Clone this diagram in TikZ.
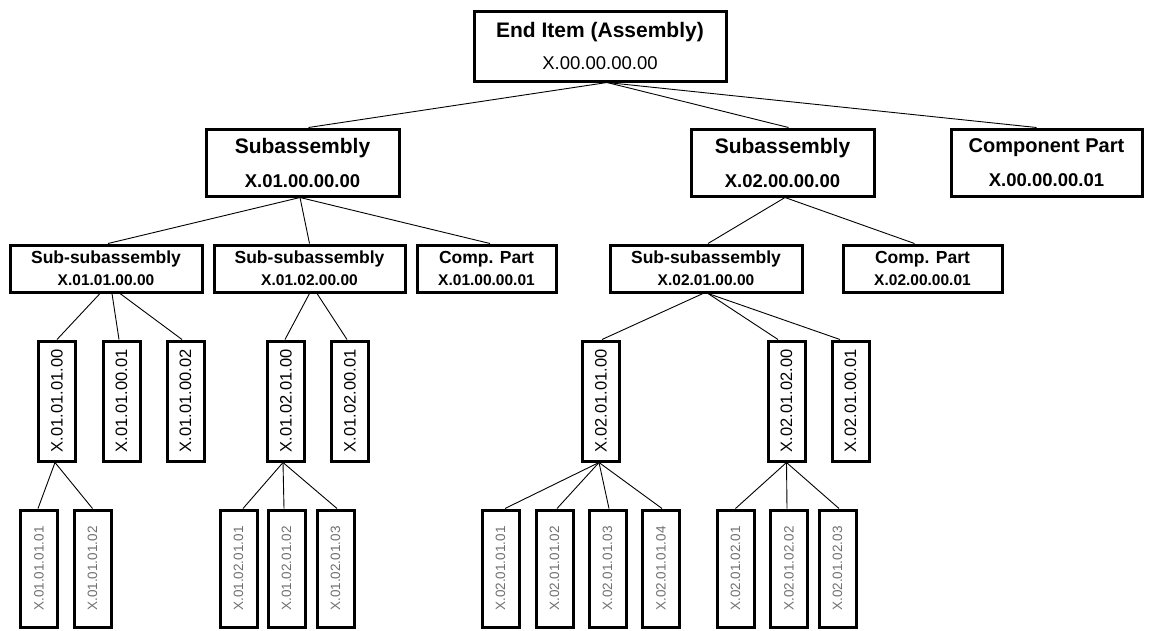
\documentclass[tikz,border=0pt]{standalone}
\usepackage{fontspec}
\setmainfont{Liberation Sans}
\usetikzlibrary{calc}
\definecolor{lightgraytext}{HTML}{707070}
\newcommand\fsz[2]{\fontsize{#1}{#2}\selectfont}
\tikzset{
  box/.style={draw=black, line width=3pt, fill=white, inner sep=0pt, align=center},
  topbox/.style={box, minimum width=252, minimum height=70, font=\fsz{21}{32}},
  subbox/.style={box, minimum height=67, font=\fsz{21}{34}\bfseries},
  ssbox/.style={box, minimum height=47, font=\fsz{17.5}{22}\bfseries},
  vbox/.style={box, minimum width=37, minimum height=120},
  leafbox/.style={box, minimum width=37, minimum height=117},
  conn/.style={draw=black, line width=0.9pt},
}
\newcommand\vtext[1]{\rotatebox{90}{\fsz{16.5}{16.5}#1}}
\newcommand\leaftext[1]{\rotatebox{90}{\fsz{13.5}{13.5}\color{lightgraytext}#1}}
\newcommand\subnum[1]{\fsz{18.5}{34}\bfseries #1}
\newcommand\ssnum[1]{\fsz{15.5}{22}\bfseries #1}
\begin{document}
\begin{tikzpicture}[x=1pt,y=-1pt]
\useasboundingbox (0,0) rectangle (1165,630);
\fill[white] (0,0) rectangle (1165,630);

% level 1
\node[topbox] (top) at (600,46) {\bfseries End Item (Assembly)\\\fsz{18.5}{32}X.00.00.00.00};

% level 2
\node[subbox, minimum width=193] (s1) at (302.5,162.5) {Subassembly\\\subnum{X.01.00.00.00}};
\node[subbox, minimum width=183] (s2) at (782.5,162.5) {Subassembly\\\subnum{X.02.00.00.00}};
\node[subbox, minimum width=191] (cp) at (1046.5,162.5) {\fsz{20}{34}\bfseries Component Part\\\subnum{X.00.00.00.01}};

% level 3
\node[ssbox, minimum width=192] (ss1) at (106,268.5) {Sub-subassembly\\\ssnum{X.01.01.00.00}};
\node[ssbox, minimum width=191] (ss2) at (309.5,268.5) {Sub-subassembly\\\ssnum{X.01.02.00.00}};
\node[ssbox, minimum width=139] (c1) at (486.5,268.5) {Comp. Part\\\ssnum{X.01.00.00.01}};
\node[ssbox, minimum width=192] (ss3) at (706,268.5) {Sub-subassembly\\\ssnum{X.02.01.00.00}};
\node[ssbox, minimum width=159] (c2) at (922.5,268.5) {Comp. Part\\\ssnum{X.02.00.00.01}};

% level 4
\node[vbox] (a1) at (57,401) {\vtext{X.01.01.01.00}};
\node[vbox] (a2) at (121.5,401) {\vtext{X.01.01.00.01}};
\node[vbox] (a3) at (185.5,401) {\vtext{X.01.01.00.02}};
\node[vbox] (b1) at (286,401) {\vtext{X.01.02.01.00}};
\node[vbox] (b2) at (350,401) {\vtext{X.01.02.00.01}};
\node[vbox] (d1) at (601,401) {\vtext{X.02.01.01.00}};
\node[vbox] (d2) at (786.5,401) {\vtext{X.02.01.02.00}};
\node[vbox] (d3) at (850.5,401) {\vtext{X.02.01.00.01}};

% level 5
\node[leafbox] (la) at (39,568.5) {\leaftext{X.01.01.01.01}};
\node[leafbox] (lb) at (92.5,568.5) {\leaftext{X.01.01.01.02}};
\node[leafbox] (lc) at (238.5,568.5) {\leaftext{X.01.02.01.01}};
\node[leafbox] (ld) at (286.5,568.5) {\leaftext{X.01.02.01.02}};
\node[leafbox] (le) at (335.5,568.5) {\leaftext{X.01.02.01.03}};
\node[leafbox] (lf) at (500.5,568.5) {\leaftext{X.02.01.01.01}};
\node[leafbox] (lg) at (554.5,568.5) {\leaftext{X.02.01.01.02}};
\node[leafbox] (lh) at (607.5,568.5) {\leaftext{X.02.01.01.03}};
\node[leafbox] (li) at (661,568.5) {\leaftext{X.02.01.01.04}};
\node[leafbox] (lj) at (735.5,568.5) {\leaftext{X.02.01.02.01}};
\node[leafbox] (lk) at (789,568.5) {\leaftext{X.02.01.02.02}};
\node[leafbox] (ll) at (837.5,568.5) {\leaftext{X.02.01.02.03}};

% connectors level 1 -> 2
\draw[conn] ([xshift=7pt]top.south) -- ([xshift=6pt]s1.north);
\draw[conn] ([xshift=7pt]top.south) -- ([xshift=6pt]s2.north);
\draw[conn] ([xshift=7pt]top.south) -- ([xshift=-10pt]cp.north);
% level 2 -> 3
\draw[conn] ([xshift=-2.5pt]s1.south) -- ([xshift=2pt]ss1.north);
\draw[conn] ([xshift=-2.5pt]s1.south) -- (ss2.north);
\draw[conn] ([xshift=-2.5pt]s1.south) -- ([xshift=3.5pt]c1.north);
\draw[conn] ([xshift=2.5pt]s2.south) -- ([xshift=2pt]ss3.north);
\draw[conn] ([xshift=2.5pt]s2.south) -- ([xshift=-8pt]c2.north);
% level 3 -> 4
\draw[conn] ([xshift=-6pt]ss1.south) -- (a1.north);
\draw[conn] ([xshift=6pt]ss1.south) -- ([xshift=-2.5pt]a2.north);
\draw[conn] ([xshift=14pt]ss1.south) -- ([xshift=-3.5pt]a3.north);
\draw[conn] (ss2.south) -- ([xshift=-1pt]b1.north);
\draw[conn] ([xshift=7.5pt]ss2.south) -- ([xshift=-3pt]b2.north);
\draw[conn] ([xshift=-3pt]ss3.south) -- ([xshift=1pt]d1.north);
\draw[conn] ([xshift=2pt]ss3.south) -- ([xshift=-8.5pt]d2.north);
\draw[conn] ([xshift=2pt]ss3.south) -- ([xshift=-10.5pt]d3.north);
% level 4 -> 5
\draw[conn] ([xshift=-2pt]a1.south) -- ([xshift=-1pt]la.north);
\draw[conn] ([xshift=-2pt]a1.south) -- (lb.north);
\draw[conn] ([xshift=-3pt]b1.south) -- ([xshift=4.5pt]lc.north);
\draw[conn] ([xshift=-3pt]b1.south) -- ([xshift=-2.5pt]ld.north);
\draw[conn] ([xshift=-3pt]b1.south) -- ([xshift=1.5pt]le.north);
\draw[conn] ([xshift=-2pt]d1.south) -- ([xshift=4.5pt]lf.north);
\draw[conn] ([xshift=-2pt]d1.south) -- ([xshift=2.5pt]lg.north);
\draw[conn] ([xshift=-2pt]d1.south) -- ([xshift=1.5pt]lh.north);
\draw[conn] ([xshift=-2pt]d1.south) -- ([xshift=1pt]li.north);
\draw[conn] (d2.south) -- (lj.north);
\draw[conn] (d2.south) -- ([xshift=-2pt]lk.north);
\draw[conn] (d2.south) -- ([xshift=1.5pt]ll.north);
\end{tikzpicture}
\end{document}
